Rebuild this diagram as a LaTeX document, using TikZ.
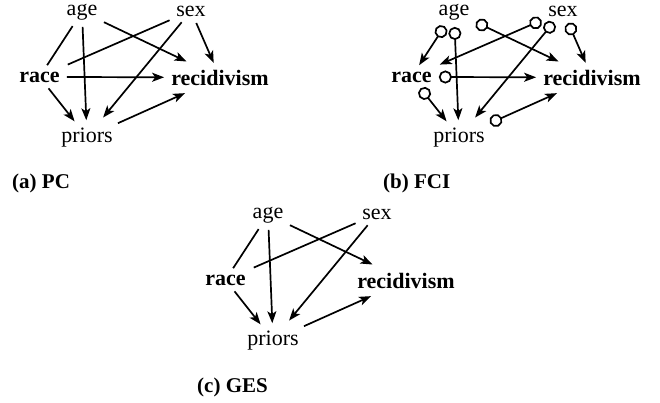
\documentclass[tikz,border=0pt]{standalone}
\usepackage{fontspec}
\setmainfont{Liberation Serif}
\usetikzlibrary{arrows.meta}
\newcommand\panelnodes[1]{%
  \node[lbl]  (#1age)  at (82,15)   {age};
  \node[lbl]  (#1sex)  at (191,16)  {sex};
  \node[blbl] (#1race) at (39.5,82) {race};
  \node[blbl] (#1rec)  at (220,85)  {recidivism};
  \node[lbl]  (#1pri)  at (87,142)  {priors};
}
\begin{document}
\begin{tikzpicture}[x=1pt,y=-1pt,
  lbl/.style={anchor=base,inner sep=2pt,font=\fontsize{22}{26}\selectfont},
  blbl/.style={anchor=base,inner sep=2pt,font=\fontsize{22}{26}\selectfont\bfseries},
  captxt/.style={anchor=base west,inner sep=0pt,font=\fontsize{21}{25}\selectfont\bfseries},
  lnk/.style={line width=1.7pt,shorten <=5pt,shorten >=5pt},
  dir/.style={lnk,-{Stealth[length=12pt,width=9pt,inset=3pt]}},
  circ/.style={lnk,{Circle[open,length=13pt,width=13pt]}-{Stealth[length=12pt,width=9pt,inset=3pt]}},
]
\useasboundingbox (0,0) rectangle (660,402);

% (a) PC
\begin{scope}
  \panelnodes{a}
  \draw[lnk] (aage) -- (arace);
  \draw[dir] (aage) -- (apri);
  \draw[dir,shorten >=14pt] (aage) -- (arec);
  \draw[lnk,shorten >=12pt] (asex) -- (arace);
  \draw[dir,shorten >=10pt] (asex) -- (apri);
  \draw[dir] (asex) -- (arec);
  \draw[dir] (arace) -- (arec);
  \draw[dir] (arace) -- (apri);
  \draw[dir,shorten >=14pt] (apri) -- (arec);
\end{scope}

% (b) FCI
\begin{scope}[shift={(372,0)}]
  \panelnodes{b}
  \draw[circ] (bage) -- (brace);
  \draw[circ] (bage) -- (bpri);
  \draw[circ,shorten >=14pt] (bage) -- (brec);
  \draw[circ,shorten >=12pt] (bsex) -- (brace);
  \draw[circ,shorten >=10pt] (bsex) -- (bpri);
  \draw[circ] (bsex) -- (brec);
  \draw[circ] (brace) -- (brec);
  \draw[circ] (brace) -- (bpri);
  \draw[circ,shorten >=14pt] (bpri) -- (brec);
\end{scope}

% (c) GES
\begin{scope}[shift={(186,203)}]
  \panelnodes{c}
  \draw[lnk] (cage) -- (crace);
  \draw[dir] (cage) -- (cpri);
  \draw[dir,shorten >=14pt] (cage) -- (crec);
  \draw[lnk,shorten >=12pt] (csex) -- (crace);
  \draw[dir,shorten >=10pt] (csex) -- (cpri);
  \draw[dir] (crace) -- (cpri);
  \draw[dir,shorten >=14pt] (cpri) -- (crec);
\end{scope}

\node[captxt] (capa) at (12,188) {(a) PC};
\node[captxt] (capb) at (383,188) {(b) FCI};
\node[captxt] (capc) at (197,392) {(c) GES};
\end{tikzpicture}
\end{document}
